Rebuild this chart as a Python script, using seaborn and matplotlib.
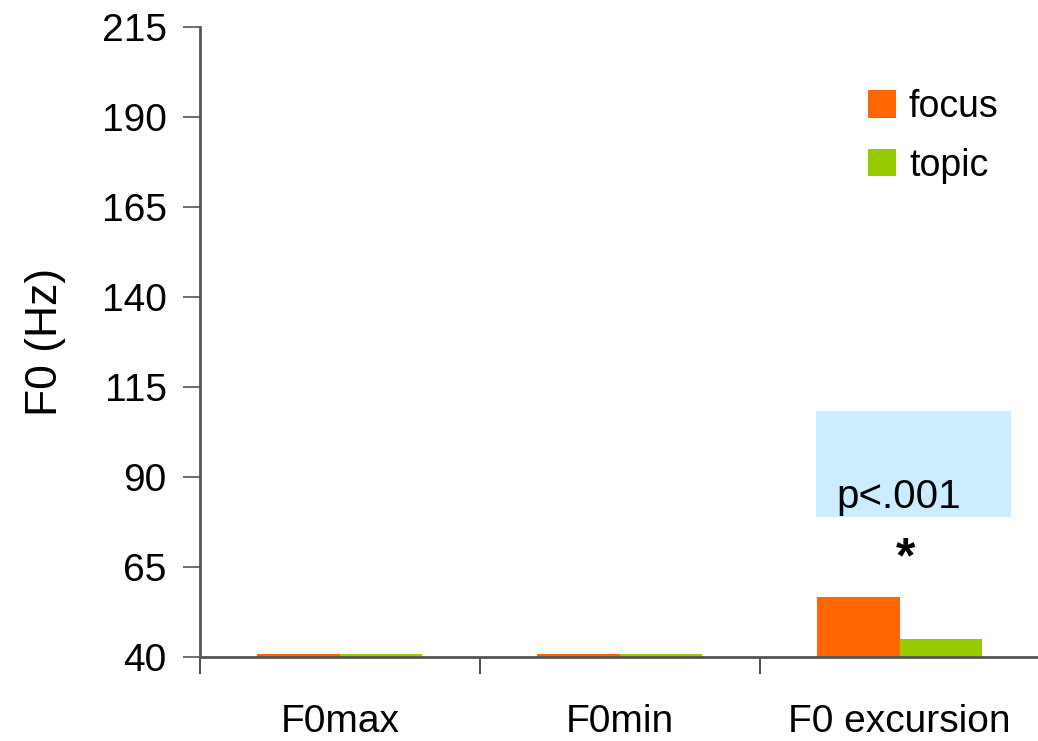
import matplotlib
matplotlib.use("Agg")
import matplotlib.pyplot as plt
import seaborn as sns
import pandas as pd
from matplotlib.patches import Rectangle

categories = ["F0max", "F0min", "F0 excursion"]
focus_values = [40.8, 40.8, 56.7]
topic_values = [40.8, 40.8, 45.0]
series_names = ["focus", "topic"]
y_ticks = [40, 65, 90, 115, 140, 165, 190, 215]

df = pd.DataFrame({
    "category": categories * 2,
    "value": focus_values + topic_values,
    "condition": [series_names[0]] * 3 + [series_names[1]] * 3,
})

sns.set_theme(style="white")
plt.rcParams["font.family"] = ["Liberation Sans", "DejaVu Sans"]
plt.rcParams["text.color"] = "black"
plt.rcParams["xtick.labelcolor"] = "black"
plt.rcParams["ytick.labelcolor"] = "black"
plt.rcParams["axes.labelcolor"] = "black"

fig = plt.figure(figsize=(10.38, 7.41), dpi=100)
ax = fig.add_axes([0.1927, 0.1134, 0.806, 0.8502])

palette = {"focus": "#FF6600", "topic": "#99CC00"}
sns.barplot(data=df, x="category", y="value", hue="condition", palette=palette,
            width=0.59, gap=0, ax=ax, saturation=1, edgecolor="none",
            legend=True)

ax.set_ylim(40, 215)
ax.set_xlim(-0.5, 2.49)
ax.set_yticks(y_ticks)
ax.set_yticklabels([str(t) for t in y_ticks], fontsize=28, color="black")
ax.set_xticks([0, 1, 2])
ax.set_xticklabels(categories, fontsize=28, color="black")
ax.tick_params(axis="x", which="major", length=0, pad=34)
ax.set_xticks([-0.5, 0.5, 1.5], minor=True)
ax.tick_params(axis="x", which="minor", length=12, width=1.2, color="#333333", direction="out", bottom=True)
ax.tick_params(axis="y", length=12, width=1.2, color="#555555", direction="out", left=True, pad=12)
ax.set_xlabel("")
ax.set_ylabel("F0 (Hz)", fontsize=32, labelpad=26, color="black")

for s in ["top", "right"]:
    ax.spines[s].set_visible(False)
for s in ["left", "bottom"]:
    ax.spines[s].set_color("#555555")
    ax.spines[s].set_linewidth(2)

# significance box
ax.add_patch(Rectangle((1.70, 78.9), 0.70, 29.4, facecolor="#CCECFF", edgecolor="none", zorder=0))
ax.text(1.775, 81.5, "p<.001", fontsize=29, ha="left", va="baseline", color="black")
ax.text(2.02, 67.0, "*", fontsize=36, fontweight="bold", ha="center", va="center", color="black")

leg = ax.legend(loc="upper right", bbox_to_anchor=(0.995, 0.955), frameon=False, fontsize=27,
                handlelength=0.75, handleheight=0.75, handletextpad=0.35, labelspacing=0.6)
for t in leg.get_texts():
    t.set_color("black")

fig.savefig("out.png", dpi=100)
